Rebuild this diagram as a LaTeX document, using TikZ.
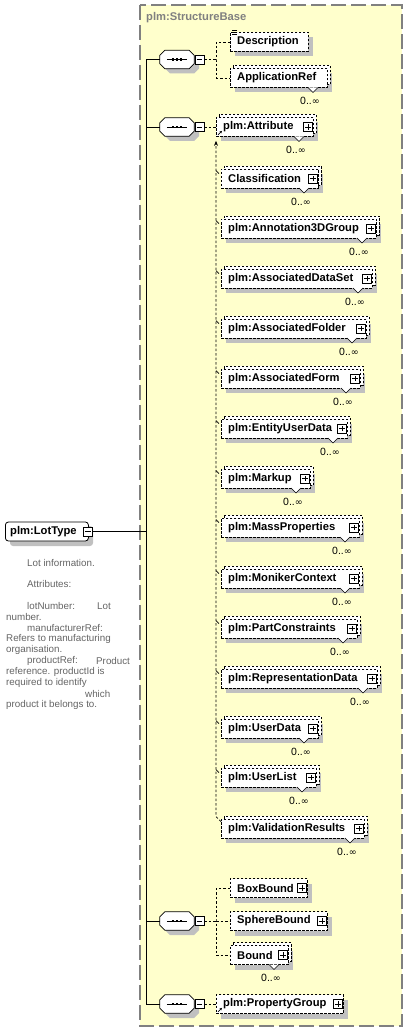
\documentclass[tikz,border=0pt]{standalone}
\usepackage{fontspec}
\setmainfont{Liberation Sans}
\newfontfamily\infsym{DejaVu Sans}
\usetikzlibrary{arrows.meta}
\definecolor{bgyellow}{RGB}{255,255,204}
\definecolor{framegray}{RGB}{128,128,128}
\definecolor{shadowc}{RGB}{192,192,192}
\definecolor{notegray}{RGB}{100,100,100}
\tikzset{
  elline/.style={draw=black, line width=0.7pt, dash pattern=on 2.5pt off 1.5pt},
  elbox/.style={elline, fill=white, inner sep=0pt, anchor=west, minimum height=19pt},
  dcon/.style={draw=black, line width=0.7pt, dash pattern=on 2.5pt off 2pt},
  solidcon/.style={draw=black, line width=0.9pt},
  lbl/.style={font=\fontsize{11.2}{13}\selectfont\bfseries, inner sep=0pt, anchor=west},
  mult/.style={font=\fontsize{10.5}{12}\selectfont, inner sep=0pt},
  note/.style={font=\fontsize{9.8}{11}\selectfont, text=notegray, inner sep=0pt, anchor=west},
  pmbox/.style={draw=black, fill=white, line width=0.6pt, minimum size=9pt, inner sep=0pt},
  plusbox/.style={pmbox, path picture={\draw[line width=0.6pt] ([xshift=1.8pt]path picture bounding box.west) -- ([xshift=-1.8pt]path picture bounding box.east) ([yshift=1.8pt]path picture bounding box.south) -- ([yshift=-1.8pt]path picture bounding box.north);}},
  minusbox/.style={pmbox, path picture={\draw[line width=0.6pt] ([xshift=1.8pt]path picture bounding box.west) -- ([xshift=-1.8pt]path picture bounding box.east);}},
}
% #1 name, #2 left, #3 right, #4 y, #5 label, #6 repeated, #7 plus
\newcommand\xel[7]{%
  \fill[shadowc] (#2+5,#4-4.5) rectangle (#3+5,#4+14.5);
  \ifnum#6=1 \draw[elline,fill=white] (#2+3,#4-12.5) rectangle (#3+3,#4+6.5); \fi
  \node[elbox, minimum width={#3pt-#2pt}] (#1) at (#2,#4) {};
  \node[lbl] (#1t) at (#2+7,#4) {#5};
  \ifnum#7=1 \node[plusbox] (#1p) at (#3-5,#4) {}; \fi
  \ifnum#6=1
    \filldraw[fill=white, line width=0.6pt] (#3-19,#4+9.5) -- (#3-14,#4+14.5) -- (#3-9,#4+9.5);
    \node[mult] (#1x) at (#3-17,#4+23) {0..{\infsym\fontsize{9.5}{12}\selectfont ∞}};
  \fi
}
% sequence compositor: #1 name, #2 y
\newcommand\xseq[2]{%
  \node[inner sep=0pt, minimum width=34pt, minimum height=18pt] (#1) at (177,#2) {};
  \fill[shadowc] (165+5,#2-9+5) -- (189+5,#2-9+5) -- (194+5,#2-4+5) -- (194+5,#2+4+5) -- (189+5,#2+9+5) -- (165+5,#2+9+5) -- (160+5,#2+4+5) -- (160+5,#2-4+5) -- cycle;
  \draw[line width=0.8pt, fill=white] ([xshift=5pt]#1.north west) -- ([xshift=-5pt]#1.north east) -- ([yshift=-5pt]#1.north east) -- ([yshift=5pt]#1.south east) -- ([xshift=-5pt]#1.south east) -- ([xshift=5pt]#1.south west) -- ([yshift=5pt]#1.south west) -- ([yshift=-5pt]#1.north west) -- cycle;
  \draw[line width=0.8pt] ([xshift=7pt]#1.west) -- ([xshift=-7pt]#1.east);
  \foreach \dx in {-4,0,4} \fill ([xshift=\dx pt]#1.center) +(-1.4pt,-1.4pt) rectangle +(1.4pt,1.4pt);
  \node[minusbox] (#1m) at (199.5,#2) {};
}
\begin{document}
\begin{tikzpicture}[x=1pt,y=-1pt]
\useasboundingbox (0,0) rectangle (408,1032);
% group frame
\draw[framegray, line width=1.3pt, dash pattern=on 15pt off 5pt, fill=bgyellow] (140,5) rectangle (402,1026);
\node[lbl, text=framegray] (title) at (146,18) {plm:StructureBase};

% root
\fill[shadowc, rounded corners=3pt] (10,526) rectangle (93,546);
\node[draw, line width=0.8pt, fill=white, rounded corners=3pt, minimum width=83pt, minimum height=19pt, anchor=west, inner sep=0pt] (lot) at (5,531.5) {};
\node[lbl] (lott) at (10,531.5) {plm:LotType};
\node[minusbox] (lotm) at (88,531.5) {};

% annotation
\node[note] (n1) at (27,563) {Lot information.};
\node[note] (n2) at (27,584) {Attributes:};
\node[note] (n3) at (27,606) {lotNumber:};
\node[note] (n3b) at (97,606) {Lot};
\node[note] (n4) at (6,617) {number.};
\node[note] (n5) at (27,628) {manufacturerRef:};
\node[note] (n6) at (6,639) {Refers to manufacturing};
\node[note] (n7) at (6,650) {organisation.};
\node[note] (n8) at (27,661) {productRef:};
\node[note] (n8b) at (96,661) {Product};
\node[note] (n9) at (6,672) {reference. productId is};
\node[note] (n10) at (6,683) {required to identify};
\node[note] (n11) at (85,694) {which};
\node[note] (n12) at (6,705) {product it belongs to.};

% sequences
\xseq{s1}{59.5}
\xseq{s2}{127}
\xseq{s3}{921}
\xseq{s4}{1004}

% elements
\xel{desc}{230}{308}{42}{Description}{0}{0}
\xel{appref}{230}{327}{78}{ApplicationRef}{1}{0}
\xel{attr}{216}{313}{127}{plm:Attribute}{1}{1}
\xel{classif}{221}{318}{178.5}{Classification}{1}{1}
\xel{annot}{221}{376}{228.5}{plm:Annotation3DGroup}{1}{1}
\xel{adset}{221}{372}{278.5}{plm:AssociatedDataSet}{1}{1}
\xel{afolder}{221}{366}{328.5}{plm:AssociatedFolder}{1}{1}
\xel{aform}{221}{360}{378.5}{plm:AssociatedForm}{1}{1}
\xel{eud}{221}{347}{428.5}{plm:EntityUserData}{1}{1}
\xel{markup}{221}{310}{478.5}{plm:Markup}{1}{1}
\xel{massp}{221}{359}{527.5}{plm:MassProperties}{1}{1}
\xel{moniker}{221}{359}{578.5}{plm:MonikerContext}{1}{1}
\xel{partc}{221}{357}{628.5}{plm:PartConstraints}{1}{1}
\xel{repd}{221}{377}{678.5}{plm:RepresentationData}{1}{1}
\xel{userd}{221}{318}{728.5}{plm:UserData}{1}{1}
\xel{userl}{221}{316}{777.5}{plm:UserList}{1}{1}
\xel{valr}{221}{364}{828.5}{plm:ValidationResults}{1}{1}
\xel{boxb}{230}{307}{888}{BoxBound}{0}{1}
\xel{sphere}{230}{327}{921}{SphereBound}{0}{1}
\xel{bound}{230}{288}{955}{Bound}{1}{1}
\xel{propg}{216}{343}{1004}{plm:PropertyGroup}{0}{1}

% description text icon
\foreach \k in {1.5,-0.5,-2.5} \draw[line width=0.6pt] ([xshift=2pt,yshift=\k pt]desc.north west) -- ++(5pt,0pt);
% reference arrows
\draw[line width=0.6pt, -{Stealth[length=2.5pt,width=2.5pt]}] ([xshift=2pt,yshift=2pt]attr.south west) -- ++(4pt,4pt);
\draw[line width=0.6pt, -{Stealth[length=2.5pt,width=2.5pt]}] ([xshift=2pt,yshift=2pt]propg.south west) -- ++(4pt,4pt);

% trunk
\coordinate (tr) at (146,531.5);
\draw[solidcon] (lotm.east) -- (tr);
\draw[solidcon] (s1.west) -- (s1.west -| tr) -- (s4.west -| tr) -- (s4.west);
\draw[solidcon] (s2.west) -- (s2.west -| tr);
\draw[solidcon] (s3.west) -- (s3.west -| tr);

% sequence 1
\coordinate (j1) at (216,59.5);
\draw[dcon] (s1m.east) -- (j1);
\draw[dcon] (desc.west) -| (j1) |- (appref.west);
% sequence 2
\draw[dcon] (s2m.east) -- (attr.west);
\draw[dcon, -{Stealth[length=5pt,width=4pt]}] ([yshift=-3pt]valr.north west) -- ++(-5,-5) -- ([yshift=-4pt]attr.south west);
\foreach \m in {classif,annot,adset,afolder,aform,eud,markup,massp,moniker,partc,repd,userd,userl}
  \draw[line width=0.6pt] ([xshift=-5pt,yshift=-2pt]\m.north west) -- ([xshift=-2pt,yshift=-5pt]\m.north west);
% sequence 3
\coordinate (j3) at (216,921);
\draw[dcon] (s3m.east) -- (j3);
\draw[dcon] (boxb.west) -| (j3) |- (bound.west);
\draw[dcon] (j3) -- (sphere.west);
% sequence 4
\draw[dcon] (s4m.east) -- (propg.west);
\end{tikzpicture}
\end{document}
